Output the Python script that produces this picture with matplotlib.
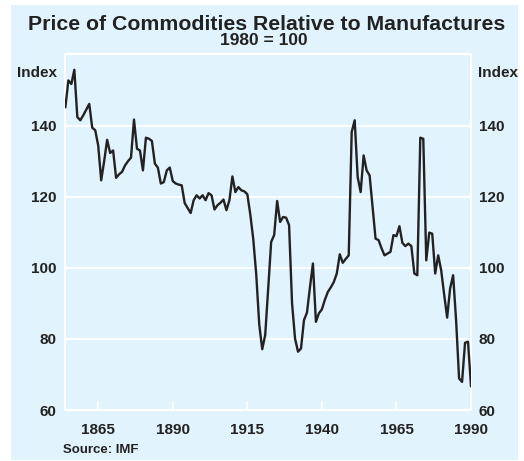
import numpy as np
from matplotlib import pyplot as plt
from matplotlib.patches import Rectangle

# annual index, 1980 = 100
years = np.arange(1854, 1991)
index_values = [
    145.2, 152.7, 151.7, 155.7, 142.4, 141.5,
    142.9, 144.5, 146.1, 139.4, 138.7, 134.4, 124.6, 130.0, 136.0, 132.3,
    133.0, 125.3, 126.3, 127.0, 128.8, 130.0, 131.0, 141.7, 133.5, 133.0,
    127.4, 136.6, 136.3, 135.7, 129.3, 128.2, 123.7, 124.1, 127.4, 128.2,
    124.4, 123.7, 123.4, 123.2, 118.2, 116.8, 115.4, 119.0, 120.4, 119.5,
    120.4, 119.0, 121.0, 120.4, 116.4, 117.6, 118.3, 119.2, 116.2, 119.0,
    125.7, 121.3, 122.7, 121.8, 121.5, 120.7, 115.0, 108.0, 98.0, 84.0,
    77.1, 81.1, 94.0, 107.3, 109.2, 118.8, 112.9, 114.3, 114.1, 112.0,
    90.0, 80.1, 76.4, 77.3, 85.3, 87.4, 94.5, 101.2, 84.8, 87.2,
    88.3, 91.0, 93.2, 94.5, 96.0, 98.4, 103.8, 101.4, 102.5, 103.5,
    138.2, 141.5, 125.5, 121.3, 131.6, 127.4, 126.0, 117.0, 108.2, 107.8,
    105.5, 103.5, 104.0, 104.5, 109.2, 108.9, 111.7, 107.0, 106.1, 106.8,
    106.1, 98.4, 97.9, 136.6, 136.3, 102.1, 109.9, 109.6, 98.4, 103.5,
    99.3, 92.5, 86.0, 94.2, 97.9, 85.3, 68.9, 67.9, 78.9, 79.2, 66.7,
]
x_ticks = [1865, 1890, 1915, 1940, 1965, 1990]
y_ticks = [60, 80, 100, 120, 140]

bg = '#e1f3fd'
ink = '#222222'
W, H = 524, 461

plt.rcParams['font.family'] = ['Liberation Sans', 'DejaVu Sans']
plt.rcParams['font.weight'] = 'bold'

fig = plt.figure(figsize=(W / 100, H / 100), dpi=100)
fig.patch.set_facecolor('white')
fig.add_artist(Rectangle((11 / W, 1 - 460 / H), 507 / W, 455 / H,
                         transform=fig.transFigure, facecolor=bg,
                         edgecolor='none', zorder=0))

ax = fig.add_axes([64.5 / W, 1 - 410 / H, 406.5 / W, 355.5 / H])
ax.set_facecolor(bg)
ax.plot(years, index_values, color=ink, linewidth=1.7, zorder=3)

ax.set_xlim(1853.7, 1990)
ax.set_ylim(60, 160)
ax.set_xticks(x_ticks)
ax.set_yticks(y_ticks)

for y in y_ticks[1:]:
    ax.axhline(y, color='white', linewidth=1.3, zorder=1)

for s in ax.spines.values():
    s.set_color('white')
    s.set_linewidth(1.5)

ax.tick_params(axis='x', direction='in', length=6.5, width=1.2, color='white',
               labelsize=11, pad=9, labelcolor=ink)
ax.tick_params(axis='y', length=0, labelsize=11, pad=5.5, labelcolor=ink,
               labelleft=True, labelright=True)

fig.text(267 / W, 1 - 24 / H, 'Price of Commodities Relative to Manufactures',
         ha='center', va='center', fontsize=15.3, fontweight='bold', color=ink)
fig.text(264 / W, 1 - 40.5 / H, '1980 = 100', ha='center', va='center',
         fontsize=12.5, fontweight='bold', color=ink)
fig.text(57 / W, 1 - 73 / H, 'Index', ha='right', va='center',
         fontsize=11, fontweight='bold', color=ink)
fig.text(478 / W, 1 - 73 / H, 'Index', ha='left', va='center',
         fontsize=11, fontweight='bold', color=ink)
fig.text(63 / W, 1 - 450 / H, 'Source: IMF', ha='left', va='center',
         fontsize=9.5, fontweight='bold', color=ink)

fig.savefig('out.png', dpi=100)
